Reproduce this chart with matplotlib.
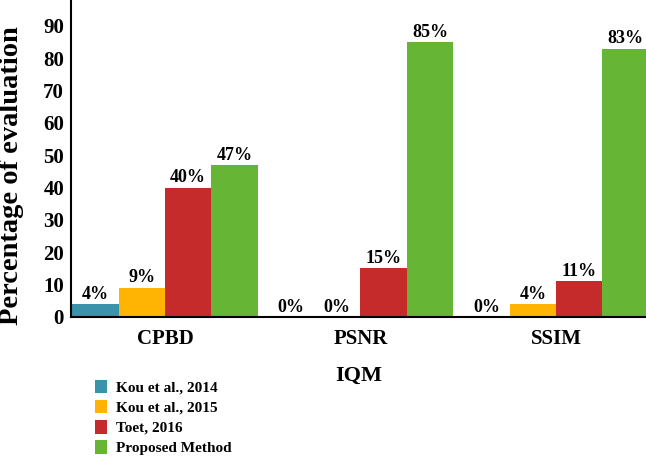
import matplotlib
matplotlib.use('Agg')
import matplotlib.pyplot as plt
import numpy as np

# chart data
categories = ['CPBD', 'PSNR', 'SSIM']
methods = ['Kou et al., 2014', 'Kou et al., 2015', 'Toet, 2016', 'Proposed Method']
kou_2014 = [4, 0, 0]
kou_2015 = [9, 0, 4]
toet_2016 = [40, 15, 11]
proposed = [47, 85, 83]
y_ticks = [0, 10, 20, 30, 40, 50, 60, 70, 80, 90]

colors = ['#3A93AB', '#FFB404', '#C62B2B', '#67B535']

plt.rcParams['font.family'] = ['Liberation Serif', 'DejaVu Serif']
plt.rcParams['font.weight'] = 'bold'

fig = plt.figure(figsize=(6.46, 4.59), dpi=100)
ax = fig.add_axes([71 / 646, 142 / 459, 1 - 71 / 646, 317 / 459])

series = [kou_2014, kou_2015, toet_2016, proposed]
x = np.arange(len(categories))
width = 0.237
for i, (vals, name, col) in enumerate(zip(series, methods, colors)):
    pos = x + (i - 1.5) * width
    bars = ax.bar(pos, vals, width, color=col, label=name)
    for b, v in zip(bars, vals):
        ax.annotate(f'{v}%', (b.get_x() + b.get_width() / 2, v),
                    xytext=(0, 1), textcoords='offset points',
                    ha='center', va='bottom', fontsize=13, fontweight='bold')

ax.set_xlim(-0.48, 2.46)
ax.set_ylim(0, 98)
ax.set_yticks(y_ticks)
ax.set_xticks(x)
ax.set_xticklabels(categories, fontsize=15, fontweight='bold')
ax.tick_params(axis='both', length=0, labelsize=15)
ax.tick_params(axis='x', pad=9)
ax.tick_params(axis='y', pad=5)
for lbl in ax.get_yticklabels():
    lbl.set_fontweight('bold')

ax.set_ylabel('Percentage of evaluation', fontsize=20.5, fontweight='bold')
ax.yaxis.set_label_coords(-0.082, 0.445)
ax.set_xlabel('IQM', fontsize=16, fontweight='bold', labelpad=12)

ax.spines['top'].set_visible(False)
ax.spines['right'].set_visible(False)
ax.spines['left'].set_linewidth(1.5)
ax.spines['bottom'].set_linewidth(1.5)

fig.legend(loc='upper left', bbox_to_anchor=(87 / 646, 1 - 372 / 459),
           frameon=False, fontsize=11, handlelength=0.8, handleheight=1.0,
           handletextpad=0.6, labelspacing=0.33, borderpad=0)

fig.savefig('out.png', dpi=100)
plt.close(fig)
